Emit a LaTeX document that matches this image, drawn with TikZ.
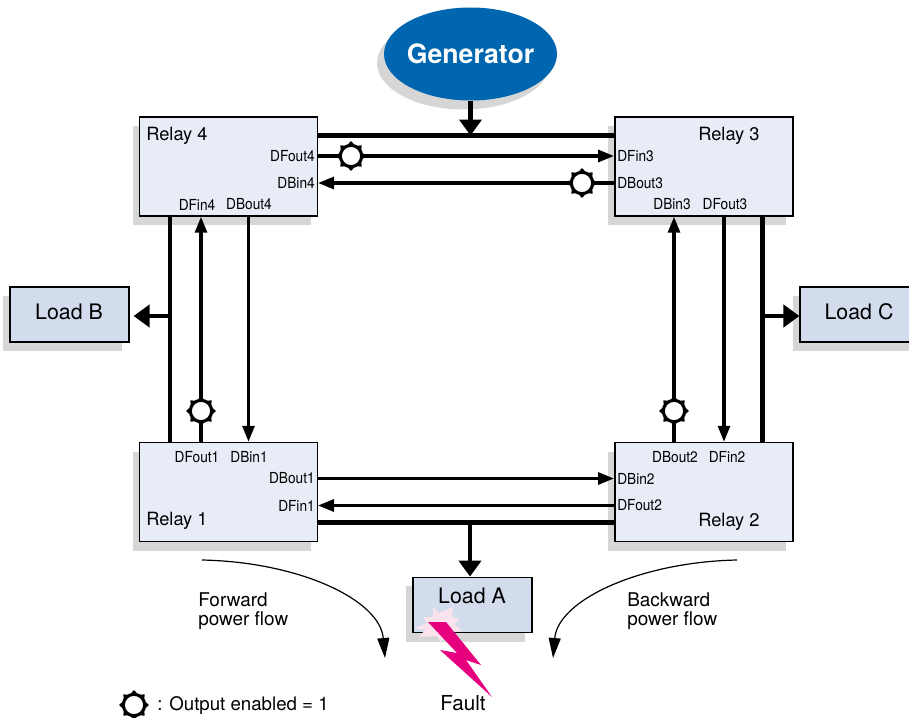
\documentclass[tikz,border=0pt]{standalone}
\usepackage{fontspec}
\setmainfont{TeX Gyre Heros}
\newfontfamily\portfont[FakeStretch=0.9]{TeX Gyre Heros}
\usetikzlibrary{arrows.meta,shapes.geometric,shadows}
\definecolor{relayfill}{HTML}{E8ECF6}
\definecolor{loadfill}{HTML}{D3DCEC}
\definecolor{shadowgray}{HTML}{D6D6D6}
\definecolor{genblue}{HTML}{0066B0}
\definecolor{faultpink}{HTML}{E6007E}
\definecolor{flashpink}{HTML}{FBE3EE}
\tikzset{
  boxshadow/.style={drop shadow={shadow xshift=-5.25pt, shadow yshift=-6.75pt, opacity=1, fill=shadowgray}},
  relay/.style={rectangle, draw, line width=1.1pt, fill=relayfill, minimum width=133.5pt, minimum height=74.25pt, inner sep=0pt, boxshadow},
  load/.style={rectangle, draw, line width=1.1pt, fill=loadfill, minimum width=89pt, minimum height=41.5pt, inner sep=0pt, boxshadow},
  title/.style={font=\fontsize{13.7pt}{15pt}\selectfont, inner sep=0pt},
  loadtext/.style={font=\fontsize{16pt}{18pt}\selectfont, inner sep=0pt},
  note/.style={font=\fontsize{14.2pt}{14.2pt}\selectfont, inner sep=0pt, align=left},
  port/.style={font=\portfont\fontsize{11.4pt}{12pt}\selectfont, inner xsep=2.25pt, inner ysep=0pt},
  bus/.style={line width=3.4pt},
  busarrow/.style={line width=3.4pt, -{Triangle[length=12pt,width=16.5pt]}},
  sig/.style={line width=2.3pt},
  sigarrow/.style={line width=2.3pt, -{Triangle[length=12pt,width=9pt]}},
  flow/.style={line width=.9pt, -{Triangle[length=15pt,width=9pt]}},
  ring/.style={circle, draw, line width=2.25pt, fill=white, minimum size=16pt, inner sep=0pt},
  spikes/.style={star, star points=8, star point ratio=1.35, fill=black, minimum size=22.5pt, inner sep=0pt}
}
\begin{document}
\begin{tikzpicture}[x=.75pt, y=-.75pt]
\useasboundingbox (0,0) rectangle (909,717);
\node[ellipse, fill=genblue, minimum width=129.75pt, minimum height=69.75pt, inner sep=0pt, boxshadow] (gen) at (470.5,54) {};
\node[text=white, inner sep=0pt, font=\fontsize{20pt}{22pt}\selectfont\bfseries] (tgen) at (470.5,54) {Generator};
\node[relay] (relay4) at (228.5,166.5) {};
\node[relay] (relay3) at (704,166.5) {};
\node[relay] (relay1) at (228.5,492) {};
\node[relay] (relay2) at (704,492) {};
\node[load] (loadb) at (69.5,314.5) {};
\node[load] (loadc) at (859.5,314.5) {};
\node[load] (loada) at (472.5,605) {};
\node[loadtext] (tloadb) at (69,312) {Load B};
\node[loadtext] (tloadc) at (859,312) {Load C};
\node[loadtext] (tloada) at (472,596) {Load A};
\node[title, anchor=west] (trelay4) at (146,136) {Relay 4};
\node[title, anchor=west] (trelay3) at (698,136) {Relay 3};
\node[title, anchor=west] (trelay1) at (146,521) {Relay 1};
\node[title, anchor=west] (trelay2) at (698,521.5) {Relay 2};
\node[port, anchor=east] (dfout4) at (318,156) {DFout4};
\node[port, anchor=east] (dbin4) at (318,183) {DBin4};
\node[port, anchor=west] (dfin3) at (614,156) {DFin3};
\node[port, anchor=west] (dbout3) at (614,183) {DBout3};
\node[port] (dfin4) at (197,204.5) {DFin4};
\node[port] (dbout4) at (249,204.5) {DBout4};
\node[port] (dbin3) at (672,204.5) {DBin3};
\node[port] (dfout3) at (725,204.5) {DFout3};
\node[port] (dfout1) at (197,457) {DFout1};
\node[port] (dbin1) at (249,457) {DBin1};
\node[port] (dbout2) at (675,457) {DBout2};
\node[port] (dfin2) at (727,457) {DFin2};
\node[port, anchor=east] (dbout1) at (318,478.5) {DBout1};
\node[port, anchor=east] (dfin1) at (318,505.5) {DFin1};
\node[port, anchor=west] (dbin2) at (614,478.5) {DBin2};
\node[port, anchor=west] (dfout2) at (614,505.5) {DFout2};
\foreach \name/\pos in {en4/{(351,156)},en3/{(582,183)},en1/{(201,411)},en2/{(674,411)},en0/{(134,705)}}{
  \node[spikes] (sp\name) at \pos {};
  \node[ring] (\name) at \pos {};
}
\coordinate (bustop) at (470.5,135.5);
\coordinate (busbot) at (470,522.5);
\coordinate (busleft) at (170,316);
\coordinate (busright) at (762.5,316);
\coordinate (linel) at (248.5,330);
\coordinate (liner) at (724,330);
% buses
\draw[bus] (bustop -| relay4.east) -- (bustop -| relay3.west);
\draw[bus] (busbot -| relay1.east) -- (busbot -| relay2.west);
\draw[bus] (busleft |- relay4.south) -- (busleft |- relay1.north);
\draw[bus] (busright |- relay3.south) -- (busright |- relay2.north);
\draw[busarrow] (gen.south) -- (bustop);
\draw[busarrow] (busbot) -- (busbot |- loada.north);
\draw[busarrow, shorten >=3pt] (busleft) -- (loadb.east |- busleft);
\draw[busarrow] (busright) -- (loadc.west |- busright);
% signals
\draw[sig] (dfout4.east) -- (en4);
\draw[sigarrow] (en4) -- (dfin3.west);
\draw[sig] (dbout3.west) -- (en3);
\draw[sigarrow] (en3) -- (dbin4.east);
\draw[sigarrow] (dbout1.east) -- (dbin2.west);
\draw[sigarrow] (dfout2.west) -- (dfin1.east);
\draw[sig] (en1 |- relay1.north) -- (en1);
\draw[sigarrow] (en1) -- (en1 |- relay4.south);
\draw[sig] (en2 |- relay2.north) -- (en2);
\draw[sigarrow] (en2) -- (en2 |- relay3.south);
\draw[sigarrow] (linel |- relay4.south) -- (linel |- relay1.north);
\draw[sigarrow] (liner |- relay3.south) -- (liner |- relay2.north);
% flows
\coordinate (fwdstart) at (202,560);
\coordinate (fwdend) at (385,658);
\coordinate (bckstart) at (737,560);
\coordinate (bckend) at (553,658);
\draw[flow] (fwdstart) .. controls (300,562) and (380,600) .. (fwdend);
\draw[flow] (bckstart) .. controls (640,562) and (558,600) .. (bckend);
\node[note, anchor=north west] (tfwd) at (198,592) {Forward\\[.4pt]power flow};
\node[note, anchor=north west] (tbck) at (627,592) {Backward\\[.4pt]power flow};
% fault
\fill[flashpink] (433,607) -- (439,613) -- (453,607) -- (452,617) -- (460,619) -- (454,624) -- (462,631) -- (452,632) -- (441,642) -- (437,636) -- (419,637) -- (425,630) -- (415,628) -- (427,623) -- (423,617) -- (433,617) -- cycle;
\fill[faultpink] (428,622) -- (446,622) -- (481,665) -- (466,660) -- (492,697) -- (440,650) -- (457,653) -- cycle;
\node[loadtext, font=\fontsize{15.5pt}{17pt}\selectfont] (tfault) at (463,703) {Fault};
\node[note, anchor=west, font=\fontsize{14pt}{14pt}\selectfont] (tenabled) at (157,706) {: Output enabled = 1};
\end{tikzpicture}
\end{document}
